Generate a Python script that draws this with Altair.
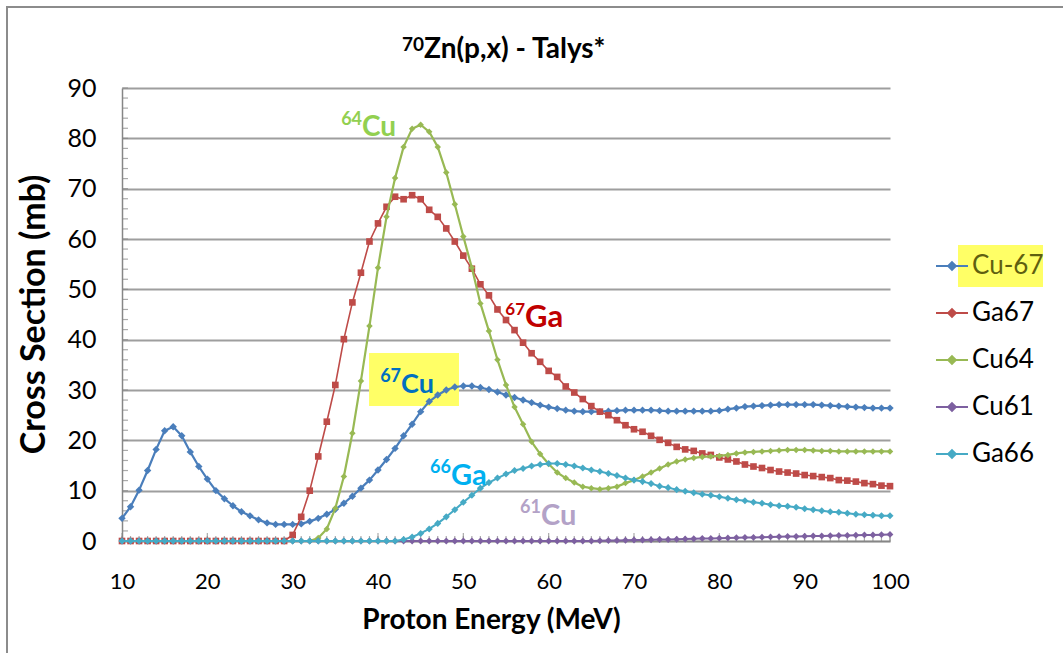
import altair as alt
import pandas as pd

# Proton energy grid (MeV)
energy = list(range(10, 101))

# TALYS cross sections (mb) for 70Zn(p,x), one value per MeV from 10 to 100
cu67 = [4.5, 6.8, 10.1, 14.0, 18.2, 21.9, 22.7, 20.9, 17.7, 14.8,
        12.3, 10.0, 8.4, 7.0, 5.8, 5.0, 4.2, 3.6, 3.3, 3.3,
        3.3, 3.4, 3.9, 4.5, 5.3, 6.3, 7.5, 8.9, 10.5, 12.1,
        14.1, 16.2, 18.4, 20.9, 23.2, 25.7, 27.7, 29.0, 30.0, 30.6,
        30.8, 30.8, 30.5, 30.1, 29.6, 29.0, 28.5, 28.0, 27.5, 27.0,
        26.6, 26.3, 26.0, 25.8, 25.7, 25.7, 25.7, 25.8, 25.9, 26.0,
        26.0, 26.0, 26.0, 25.9, 25.8, 25.8, 25.8, 25.8, 25.8, 25.8,
        25.9, 26.2, 26.4, 26.7, 26.8, 26.9, 27.0, 27.1, 27.1, 27.1,
        27.1, 27.1, 27.0, 26.9, 26.8, 26.7, 26.6, 26.5, 26.4, 26.4,
        26.4]

ga67 = [0.0] * 19 + [
        0.0, 1.2, 4.8, 10.0, 16.8, 23.7, 31.0, 40.1, 47.4, 53.3,
        59.5, 63.1, 66.4, 68.4, 67.9, 68.7, 67.9, 65.8, 64.4, 62.1,
        59.5, 56.7, 54.1, 51.0, 48.8, 46.0, 43.9, 41.9, 39.4, 37.3,
        35.6, 33.8, 32.6, 30.7, 29.5, 28.2, 26.8, 25.7, 25.0, 24.0,
        23.0, 22.2, 21.7, 20.9, 20.1, 19.5, 18.7, 18.2, 17.9, 17.4,
        17.1, 16.6, 16.2, 15.8, 15.2, 14.8, 14.5, 14.1, 13.8, 13.6,
        13.4, 13.1, 12.9, 12.7, 12.5, 12.1, 12.0, 11.8, 11.5, 11.3,
        11.0, 10.9]

cu64 = [0.0] * 23 + [
        0.6, 2.4, 6.5, 12.8, 21.4, 31.8, 42.7, 54.3, 64.4, 72.1,
        78.3, 81.9, 82.7, 81.3, 78.3, 73.2, 66.9, 60.5, 54.3, 47.2,
        41.7, 36.0, 31.0, 26.6, 23.2, 19.7, 17.3, 15.3, 13.6, 12.5,
        11.6, 10.8, 10.5, 10.3, 10.5, 10.8, 11.5, 12.1, 12.8, 13.6,
        14.4, 15.2, 15.8, 16.2, 16.5, 16.7, 16.8, 16.9, 17.1, 17.4,
        17.6, 17.7, 17.8, 17.9, 18.0, 18.1, 18.1, 18.1, 18.0, 17.9,
        17.9, 17.8, 17.8, 17.8, 17.8, 17.8, 17.8, 17.8]

cu61 = [0.0] * 55 + [
        0.0, 0.05, 0.1, 0.1, 0.15, 0.2,
        0.2, 0.25, 0.3, 0.3, 0.35, 0.4, 0.45, 0.5, 0.5, 0.55,
        0.6, 0.65, 0.7, 0.7, 0.75, 0.8, 0.85, 0.9, 0.9, 0.95,
        1.0, 1.0, 1.05, 1.1, 1.1, 1.15, 1.2, 1.2, 1.25, 1.3]

ga66 = [0.0] * 33 + [
        0.3, 0.8, 1.5, 2.4, 3.5, 4.8, 6.2, 7.7, 9.1, 10.5,
        11.6, 12.5, 13.3, 14.0, 14.4, 14.9, 15.2, 15.4, 15.4, 15.2,
        14.9, 14.5, 14.1, 13.8, 13.4, 13.0, 12.5, 12.1, 11.8, 11.4,
        10.9, 10.6, 10.2, 9.9, 9.6, 9.3, 9.1, 8.8, 8.5, 8.2,
        8.0, 7.7, 7.5, 7.2, 7.0, 6.9, 6.7, 6.4, 6.2, 6.0,
        5.8, 5.7, 5.5, 5.3, 5.2, 5.1, 5.0, 5.0]

series_names = ["Cu-67", "Ga67", "Cu64", "Cu61", "Ga66"]
series_values = [cu67, ga67, cu64, cu61, ga66]
series_colors = ["#4A7EBB", "#BE4B48", "#98B954", "#7D60A0", "#46AAC5"]
series_shapes = ["diamond", "square", "diamond", "diamond", "diamond"]
series_marker_size = [55, 44, 42, 46, 50]
series_line_width = [2.2, 1.6, 2.2, 2.0, 2.0]

# Isotope labels written next to the curves: superscript mass number + element
ann_mass = ["64", "67", "67", "66", "61"]
ann_elem = ["Cu", "Ga", "Cu", "Ga", "Cu"]
ann_x = [38.13, 57.23, 42.70, 48.55, 59.10]
ann_y = [80.46, 42.52, 29.40, 11.13, 3.18]
ann_mass_y = [82.68, 44.90, 31.59, 13.51, 5.56]
ann_colors = ["#92D050", "#C00000", "#0070C0", "#00B0F0", "#B3A2C7"]
ann_elem_size = [28, 31, 27, 29, 29]
ann_mass_size = [18, 17, 18, 18, 18]

# Chart heading: superscript mass number + reaction text
title_mass = "70"
title_text = "Zn(p,x) - Talys*"

# Axis tick values
x_labels = list(range(10, 101, 10))
y_labels = list(range(0, 91, 10))
x_minor = list(range(10, 101))
y_minor = list(range(0, 91, 2))

FONT = "Lato"
GRID = "#9E9E9E"
AXIS = "#868686"

rows = []
for name, vals in zip(series_names, series_values):
    for e, v in zip(energy, vals):
        rows.append({"series": name, "E": e, "v": v})
df = pd.DataFrame(rows)

x_scale = alt.Scale(domain=[10, 100], nice=False, zero=False)
y_scale = alt.Scale(domain=[0, 90], nice=False, zero=True)

x_axis = alt.Axis(values=x_labels, title="Proton Energy (MeV)", grid=False,
                  ticks=False, tickSize=0, labelPadding=30, labelFlush=False,
                  domainColor=AXIS, domainWidth=1.5,
                  labelFont=FONT, labelFontSize=22, labelColor="#000000",
                  titleFont=FONT, titleFontSize=28, titleFontWeight="bold",
                  titleColor="#000000", titleX=369, titleY=87,
                  titleBaseline="alphabetic", titleAlign="center")
y_axis = alt.Axis(values=y_labels, title="Cross Section (mb)", grid=True,
                  gridColor=GRID, gridWidth=2, ticks=False, tickSize=0,
                  labelPadding=26, labelFlush=False,
                  domainColor=AXIS, domainWidth=1.5,
                  labelFont=FONT, labelFontSize=25, labelColor="#000000",
                  titleFont=FONT, titleFontSize=34, titleFontWeight="bold",
                  titleColor="#000000", titleX=-78, titleY=226,
                  titleBaseline="alphabetic", titleAlign="center",
                  titleAngle=270)

legend = alt.Legend(
    orient="none", legendX=813, legendY=161, title=None, padding=0,
    symbolType="M-1,0L1,0M0,-0.24L0.24,0L0,0.24L-0.24,0Z",
    symbolSize=1024, symbolStrokeWidth=2, symbolOpacity=1,
    labelFont=FONT, labelFontSize=26, labelOffset=3, rowPadding=17,
    labelColor=alt.ExprRef("datum.label === 'Cu-67' ? '#5F5F10' : '#000000'"),
)

color = alt.Color("series:N",
                  scale=alt.Scale(domain=series_names, range=series_colors),
                  legend=legend)

one = pd.DataFrame({"k": [0]})
layers = []

# Outer chart frame
layers.append(
    alt.Chart(one).mark_rect(
        fill=None, stroke="#8C8C8C", strokeWidth=2
    ).encode(x=alt.value(-115), x2=alt.value(1000),
             y=alt.value(-81), y2=alt.value(600))
)

# Highlight box behind the 67Cu label
layers.append(
    alt.Chart(one).mark_rect(color="#FFFF66").encode(
        x=alt.datum(38.95, scale=x_scale), x2=alt.datum(49.49),
        y=alt.datum(37.35, scale=y_scale), y2=alt.datum(26.82))
)

# Highlight behind the first legend entry
layers.append(
    alt.Chart(one).mark_rect(color="#FFFF66").encode(
        x=alt.datum(107.97), x2=alt.datum(117.93),
        y=alt.datum(58.81), y2=alt.datum(50.46))
)

# Minor ticks inside the plot along both axes
layers.append(
    alt.Chart(pd.DataFrame({"v": y_minor})).mark_tick(
        orient="horizontal", size=6, thickness=1.2, color=AXIS, xOffset=3
    ).encode(x=alt.datum(10), y=alt.Y("v:Q"))
)
layers.append(
    alt.Chart(pd.DataFrame({"E": x_minor})).mark_tick(
        orient="vertical", size=5, thickness=1.2, color=AXIS, yOffset=-2.5
    ).encode(x=alt.X("E:Q"), y=alt.datum(0))
)
layers.append(
    alt.Chart(pd.DataFrame({"E": x_labels})).mark_tick(
        orient="vertical", size=8, thickness=1.2, color=AXIS, yOffset=-4
    ).encode(x=alt.X("E:Q"), y=alt.datum(0))
)

# Series: line then markers, drawn in legend order
for i, name in enumerate(series_names):
    sub = df[df["series"] == name]
    if i == 0:
        xe = alt.X("E:Q", scale=x_scale, axis=x_axis)
        ye = alt.Y("v:Q", scale=y_scale, axis=y_axis)
    else:
        xe = alt.X("E:Q")
        ye = alt.Y("v:Q")
    line = alt.Chart(sub).mark_line(
        strokeWidth=series_line_width[i], strokeJoin="round"
    ).encode(x=xe, y=ye, color=color)
    pts = alt.Chart(sub).mark_point(
        filled=True, shape=series_shapes[i], size=series_marker_size[i],
        opacity=1
    ).encode(x=alt.X("E:Q"), y=alt.Y("v:Q"), color=color)
    layers += [line, pts]

# Isotope labels
for i in range(len(ann_elem)):
    layers.append(
        alt.Chart(one).mark_text(
            text=ann_mass[i], align="right", baseline="alphabetic",
            font=FONT, fontWeight="bold", fontSize=ann_mass_size[i],
            color=ann_colors[i]
        ).encode(x=alt.datum(ann_x[i]), y=alt.datum(ann_mass_y[i]))
    )
    layers.append(
        alt.Chart(one).mark_text(
            text=ann_elem[i], align="left", baseline="alphabetic",
            font=FONT, fontWeight="bold", fontSize=ann_elem_size[i],
            color=ann_colors[i]
        ).encode(x=alt.datum(ann_x[i]), y=alt.datum(ann_y[i]))
    )

# Heading above the plot
layers.append(
    alt.Chart(one).mark_text(
        text=title_mass, align="right", baseline="alphabetic", font=FONT,
        fontWeight="bold", fontSize=19, color="#000000"
    ).encode(x=alt.datum(45.4), y=alt.datum(97.3))
)
layers.append(
    alt.Chart(one).mark_text(
        text=title_text, align="left", baseline="alphabetic", font=FONT,
        fontWeight="bold", fontSize=28, color="#000000"
    ).encode(x=alt.datum(45.4), y=alt.datum(96.0))
)

chart = alt.layer(*layers).properties(
    width=768, height=453,
    autosize=alt.AutoSizeParams(type="none"),
    padding={"left": 122, "top": 88, "right": 173, "bottom": 112},
    background="white",
).configure_view(stroke=None)

chart.save("out.html", embed_options={"renderer": "svg", "actions": False})
